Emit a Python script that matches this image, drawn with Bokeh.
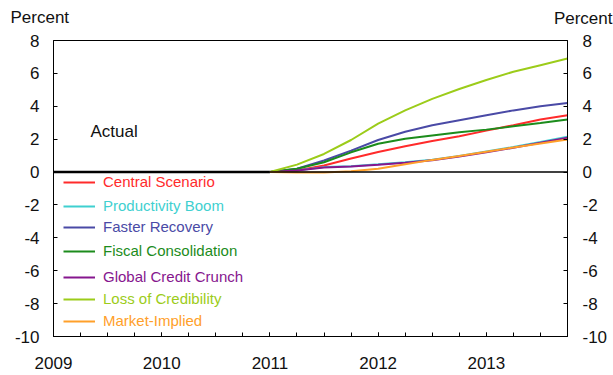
from bokeh.plotting import figure
from bokeh.models import (LinearAxis, FixedTicker, Span, Label, Legend, LegendItem)
from bokeh.embed import file_html
from bokeh.resources import INLINE

# ---- data ----
quarters = [2011.0, 2011.25, 2011.5, 2011.75, 2012.0, 2012.25, 2012.5, 2012.75,
            2013.0, 2013.25, 2013.5, 2013.75]
central = [0, 0.1, 0.4, 0.82, 1.22, 1.57, 1.89, 2.18, 2.52, 2.85, 3.2, 3.46]
productivity = [0, 0.1, 0.3, 0.36, 0.47, 0.6, 0.75, 0.98, 1.25, 1.52, 1.83, 2.15]
faster = [0, 0.2, 0.7, 1.3, 1.95, 2.45, 2.85, 3.15, 3.45, 3.75, 4.0, 4.2]
fiscal = [0, 0.2, 0.6, 1.2, 1.72, 2.02, 2.22, 2.42, 2.58, 2.78, 2.98, 3.2]
credit_crunch = [0, 0.1, 0.28, 0.34, 0.44, 0.56, 0.72, 0.95, 1.2, 1.48, 1.78, 2.08]
credibility = [0, 0.45, 1.1, 1.95, 2.95, 3.75, 4.45, 5.05, 5.6, 6.1, 6.5, 6.9]
market = [0, -0.02, -0.03, 0.05, 0.2, 0.48, 0.74, 0.98, 1.24, 1.5, 1.74, 1.98]

actual_x = [2009.0, 2011.0]
actual_y = [0.0, 0.0]

series_names = ["Central Scenario", "Productivity Boom", "Faster Recovery",
                "Fiscal Consolidation", "Global Credit Crunch",
                "Loss of Credibility", "Market-Implied"]
series_values = [central, productivity, faster, fiscal, credit_crunch,
                 credibility, market]
series_colors = ["#ff2b2b", "#3fd0d0", "#4a4aa6", "#1c8c1c", "#86168e",
                 "#9ccc1a", "#ffa02a"]

year_ticks = [2009, 2010, 2011, 2012, 2013]
quarter_ticks = [y + q / 4 for y in range(2009, 2014) for q in range(4)]
y_ticks = [-10, -8, -6, -4, -2, 0, 2, 4, 6, 8]
unit_label = "Percent"

FONT = "Liberation Sans"
TXT = "#111111"

p = figure(width=613, height=375, x_range=(2009.0, 2013.75), y_range=(-10, 8),
           output_backend="svg", toolbar_location=None,
           min_border_left=53, min_border_right=46, min_border_top=40,
           min_border_bottom=39)
p.xgrid.visible = False
p.ygrid.visible = False
p.outline_line_color = "black"
p.outline_line_width = 1

# unit labels above both axes (placed in the top side panel, so not clipped)
p.add_layout(Label(x=-43, y=23, x_units="screen", y_units="screen", text=unit_label,
                   text_font=FONT, text_font_size="17px", text_color=TXT,
                   text_baseline="middle", text_align="left"), "above")
p.add_layout(Label(x=559, y=3, x_units="screen", y_units="screen", text=unit_label,
                   text_font=FONT, text_font_size="17px", text_color=TXT,
                   text_baseline="middle", text_align="right"), "above")

# x axis
xa = p.xaxis[0]
xa.ticker = FixedTicker(ticks=year_ticks, minor_ticks=quarter_ticks)
xa.major_tick_in = 4
xa.major_tick_out = 0
xa.minor_tick_in = 4
xa.minor_tick_out = 0
xa.major_label_standoff = 20
xa.major_label_text_font = FONT
xa.major_label_text_font_size = "17px"
xa.major_label_text_color = TXT
xa.axis_line_color = "black"

overrides = {t: str(t) for t in y_ticks}

# left y axis
ya = p.yaxis[0]
ya.ticker = FixedTicker(ticks=y_ticks)
ya.major_label_overrides = overrides
ya.major_tick_in = 4
ya.major_tick_out = 0
ya.minor_tick_line_color = None
ya.major_label_standoff = 14
ya.major_label_text_font = FONT
ya.major_label_text_font_size = "17px"
ya.major_label_text_color = TXT
ya.axis_line_color = "black"

# right y axis
ra = LinearAxis(ticker=FixedTicker(ticks=y_ticks))
ra.major_label_overrides = overrides
ra.major_tick_in = 4
ra.major_tick_out = 0
ra.minor_tick_line_color = None
ra.major_label_standoff = 15
ra.major_label_text_font = FONT
ra.major_label_text_font_size = "17px"
ra.major_label_text_color = TXT
ra.axis_line_color = "black"
p.add_layout(ra, "right")

# zero line
p.add_layout(Span(location=0, dimension="width", line_color="black", line_width=1.5))

# actual
p.line(actual_x, actual_y, line_color="black", line_width=2.5)

renderers = []
for name, vals, col in zip(series_names, series_values, series_colors):
    r = p.line(quarters, vals, line_color=col, line_width=2)
    renderers.append(r)

# legends (one per entry so each label takes its series colour)
legend_y = [146, 122, 101, 77, 51, 29, 7]
for name, r, col, ly in zip(series_names, renderers, series_colors, legend_y):
    leg = Legend(items=[LegendItem(label=name, renderers=[r])], location=(10, ly),
                 border_line_alpha=0, background_fill_alpha=0, padding=0, margin=0,
                 spacing=0, glyph_width=32, glyph_height=16, label_height=16,
                 label_standoff=8, label_text_font=FONT, label_text_font_size="15px",
                 label_text_color=col)
    p.add_layout(leg)

# "Actual" label
p.add_layout(Label(x=37, y=205, x_units="screen", y_units="screen", text="Actual",
                   text_font=FONT, text_font_size="17px", text_color=TXT,
                   text_baseline="middle", text_align="left"))

open("out.html", "w").write(file_html(p, INLINE))
